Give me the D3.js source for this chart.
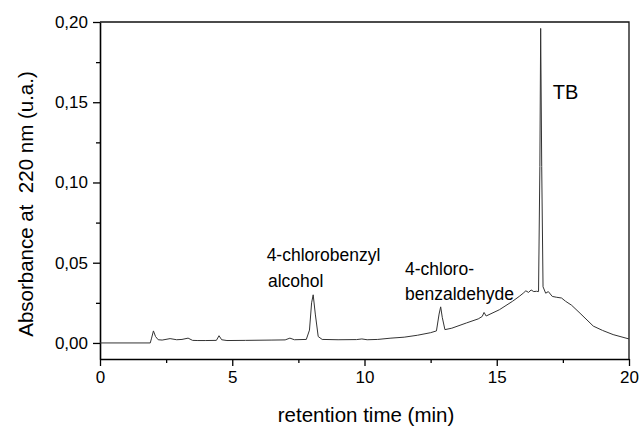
<!DOCTYPE html>
<html>
<head>
<meta charset="utf-8">
<script src="https://cdn.jsdelivr.net/npm/d3@7"></script>
<style>
  body { margin: 0; background: #fff; }
  svg { display: block; font-family: "Liberation Sans", Arial, sans-serif; }
</style>
</head>
<body>
<svg width="642" height="427"></svg>
<script>
// retention time (min) and absorbance (u.a.)
var times = [0, 1.9, 1.95, 2.02, 2.1, 2.2, 2.35, 2.65, 2.9, 3.1, 3.33, 3.5, 3.7, 4.0, 4.4, 4.5, 4.6, 4.8,
  5.5, 6.5, 7.0, 7.18, 7.35, 7.8, 7.92, 8.0, 8.06, 8.14, 8.25, 8.4, 9.0, 9.7, 9.9, 10.1, 10.5, 11.0,
  11.5, 12.0, 12.5, 12.72, 12.82, 12.88, 12.94, 13.04, 13.3, 13.86, 14.3, 14.45, 14.52, 14.6, 15.1,
  15.6, 15.85, 16.0, 16.1, 16.2, 16.3, 16.4, 16.5, 16.58, 16.63, 16.66, 16.70, 16.75, 16.85, 16.95,
  17.1, 17.25, 17.45, 17.6, 17.83, 18.15, 18.65, 19.0, 19.4, 20];
var absorbance = [0, 0, 0.003, 0.0075, 0.004, 0.002, 0.0018, 0.0027, 0.002, 0.0022, 0.003, 0.0016, 0.0015,
  0.0015, 0.0016, 0.0045, 0.002, 0.0015, 0.0016, 0.0018, 0.0019, 0.003, 0.002, 0.0022, 0.008, 0.025,
  0.030, 0.018, 0.004, 0.0022, 0.002, 0.0021, 0.0025, 0.002, 0.0022, 0.003, 0.0036, 0.0048, 0.0064,
  0.0075, 0.018, 0.0225, 0.016, 0.0083, 0.0092, 0.0125, 0.015, 0.0165, 0.019, 0.0168, 0.0207, 0.026,
  0.029, 0.031, 0.0325, 0.0315, 0.033, 0.032, 0.0322, 0.032, 0.11, 0.196, 0.11, 0.035, 0.031, 0.032,
  0.029, 0.0285, 0.028, 0.026, 0.0235, 0.0185, 0.0105, 0.0078, 0.0052, 0.0025];

var xTicks = [0, 5, 10, 15, 20],
    xMinor = [2.5, 7.5, 12.5, 17.5],
    yTicks = [0, 0.05, 0.10, 0.15, 0.20],
    yMinor = [0.025, 0.075, 0.125, 0.175];

var labels = [
  {text: "4-chlorobenzyl", t: 6.3, y: 261, size: 17.5},
  {text: "alcohol", t: 6.35, y: 287, size: 17.5},
  {text: "4-chloro-", t: 11.53, y: 275, size: 17.5},
  {text: "benzaldehyde", t: 11.53, y: 300, size: 17.5},
  {text: "TB", t: 17.12, y: 99, size: 20}
];

var svg = d3.select("svg"),
    margin = {top: 22, right: 13, bottom: 68, left: 100},
    width = 642 - margin.left - margin.right,
    height = 427 - margin.top - margin.bottom,
    g = svg.append("g").attr("transform", "translate(" + margin.left + "," + margin.top + ")");

svg.insert("rect", ":first-child").attr("width", 642).attr("height", 427).attr("fill", "#fff");

var x = d3.scaleLinear().domain([0, 20]).range([0, width]),
    y = d3.scaleLinear().domain([-0.01, 0.20]).range([height, 0]);

var fmt = function (d) { return d3.format(".2f")(d).replace(".", ","); };

// minor ticks first, then the axes with their labels
g.append("g")
    .attr("transform", "translate(0," + height + ")")
    .call(d3.axisBottom(x).tickValues(xMinor).tickSize(4).tickFormat(""))
    .call(function (a) { a.select(".domain").remove(); a.selectAll("line").attr("stroke-width", 1.3); });
g.append("g")
    .call(d3.axisLeft(y).tickValues(yMinor).tickSize(4).tickFormat(""))
    .call(function (a) { a.select(".domain").remove(); a.selectAll("line").attr("stroke-width", 1.3); });

var xAxis = g.append("g")
    .attr("transform", "translate(0," + height + ")")
    .call(d3.axisBottom(x).tickValues(xTicks).tickSize(7).tickSizeOuter(0).tickPadding(5));
xAxis.selectAll("text").style("font-size", "17px").attr("fill", "#000");

var yAxis = g.append("g")
    .call(d3.axisLeft(y).tickValues(yTicks).tickSize(7).tickSizeOuter(0).tickPadding(5).tickFormat(fmt));
yAxis.selectAll("text").style("font-size", "17px").attr("fill", "#000");

svg.selectAll(".domain").attr("stroke-width", 1.6);
svg.selectAll(".tick line").attr("stroke-width", 1.3);

// top and right sides of the frame
g.append("path")
    .attr("d", "M0,0H" + width + "V" + height)
    .attr("fill", "none")
    .attr("stroke", "#111")
    .attr("stroke-width", 1.3);

var line = d3.line()
    .x(function (d, i) { return x(times[i]); })
    .y(function (d) { return y(d); });

g.append("path")
    .datum(absorbance)
    .attr("fill", "none")
    .attr("stroke", "#333")
    .attr("stroke-width", 1)
    .attr("d", line);

g.selectAll(".peak-label")
    .data(labels)
    .enter().append("text")
    .attr("class", "peak-label")
    .attr("x", function (d) { return x(d.t); })
    .attr("y", function (d) { return d.y - margin.top; })
    .style("font-size", function (d) { return d.size + "px"; })
    .text(function (d) { return d.text; });

svg.append("text")
    .attr("x", 366)
    .attr("y", 422)
    .attr("text-anchor", "middle")
    .style("font-size", "20.5px")
    .text("retention time (min)");

svg.append("text")
    .attr("transform", "translate(33,204) rotate(-90)")
    .attr("text-anchor", "middle")
    .style("font-size", "20.5px")
    .style("white-space", "pre")
    .attr("xml:space", "preserve")
    .text("Absorbance at  220 nm (u.a.)");
</script>
</body>
</html>
